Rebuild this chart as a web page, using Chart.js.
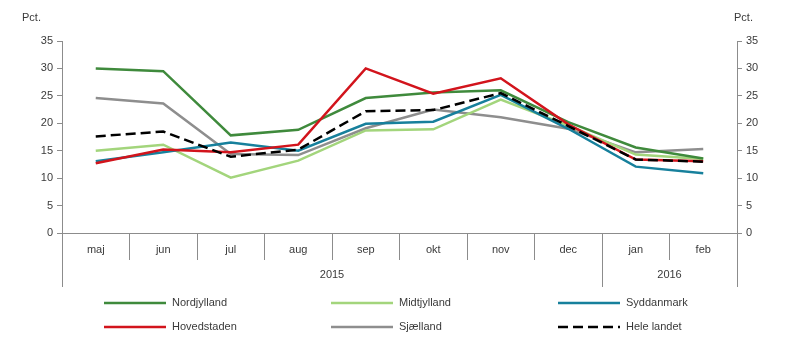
<!DOCTYPE html>
<html>
<head>
<meta charset="utf-8">
<script src="https://cdn.jsdelivr.net/npm/chart.js@4/dist/chart.umd.min.js"></script>
<style>
    html, body { margin: 0; padding: 0; background: #fff; }
</style>
</head>
<body>
<canvas id="chart" width="799" height="345"></canvas>
<script>
const MONTHS = ['maj', 'jun', 'jul', 'aug', 'sep', 'okt', 'nov', 'dec', 'jan', 'feb'];
const YEARS = ['2015', '2016'];
const YEAR_SPANS = [[0, 7], [8, 9]];
const Y_TICKS = [0, 5, 10, 15, 20, 25, 30, 35];

const NORDJYLLAND = [30.0, 29.5, 17.8, 18.8, 24.6, 25.6, 26.0, 20.2, 15.6, 13.6];
const MIDTJYLLAND = [15.0, 16.1, 10.1, 13.2, 18.7, 18.9, 24.3, 19.6, 14.3, 13.5];
const SYDDANMARK = [13.1, 14.7, 16.5, 15.0, 19.9, 20.3, 25.2, 19.0, 12.1, 10.9];
const HOVEDSTADEN = [12.7, 15.2, 14.7, 16.1, 30.0, 25.4, 28.2, 19.8, 13.4, 13.1];
const SJAELLAND = [24.6, 23.6, 14.4, 14.2, 19.1, 22.5, 21.1, 19.0, 14.7, 15.3];
const HELE_LANDET = [17.6, 18.5, 13.9, 15.2, 22.2, 22.4, 25.5, 19.5, 13.4, 13.0];

const FONT = 'Liberation Sans, Arial, sans-serif';
const TEXT = '#3a3a3a';
const AXIS = '#8c8c8c';

const line = (label, data, color, order, dash) => ({
    label,
    data,
    borderColor: color,
    backgroundColor: color,
    borderWidth: 2.5,
    borderDash: dash || [],
    pointRadius: 0,
    tension: 0,
    order
});

const datasets = [
    line('Nordjylland', NORDJYLLAND, '#3f8a3c', 2),
    line('Midtjylland', MIDTJYLLAND, '#a3d57c', 4),
    line('Syddanmark', SYDDANMARK, '#17809c', 3),
    line('Hovedstaden', HOVEDSTADEN, '#d2141c', 1),
    line('Sjælland', SJAELLAND, '#8e8e8e', 5),
    line('Hele landet', HELE_LANDET, '#000000', 0, [10, 5])
];

// year row, "Pct." labels and legend
const extras = {
    id: 'extras',
    afterDraw(chart) {
        const { ctx, chartArea, scales } = chart;
        const x = scales.x;
        const half = (x.getPixelForValue(1) - x.getPixelForValue(0)) / 2;
        ctx.save();
        ctx.strokeStyle = AXIS;
        ctx.lineWidth = 1;
        ctx.fillStyle = TEXT;
        ctx.font = '11px ' + FONT;
        ctx.textAlign = 'center';
        ctx.textBaseline = 'middle';

        const bounds = new Set();
        YEARS.forEach((year, i) => {
            const [a, b] = YEAR_SPANS[i];
            const left = x.getPixelForValue(a) - half;
            const right = x.getPixelForValue(b) + half;
            bounds.add(Math.round(left));
            bounds.add(Math.round(right));
            ctx.fillText(year, (left + right) / 2, chartArea.bottom + 42);
        });
        bounds.forEach(px => {
            ctx.beginPath();
            ctx.moveTo(px + 0.5, chartArea.bottom);
            ctx.lineTo(px + 0.5, chartArea.bottom + 54);
            ctx.stroke();
        });

        ctx.textAlign = 'left';
        ctx.fillText('Pct.', 22, 18);
        ctx.fillText('Pct.', 734, 18);

        // legend, three columns
        const cols = [104, 331, 558];
        const rows = [303, 327];
        chart.data.datasets.forEach((ds, i) => {
            const lx = cols[i % 3];
            const ly = rows[Math.floor(i / 3)];
            ctx.beginPath();
            ctx.strokeStyle = ds.borderColor;
            ctx.lineWidth = 2.5;
            ctx.setLineDash(ds.borderDash);
            ctx.moveTo(lx, ly);
            ctx.lineTo(lx + 62, ly);
            ctx.stroke();
            ctx.setLineDash([]);
            ctx.fillText(ds.label, lx + 68, ly);
        });
        ctx.restore();
    }
};

const yAxis = (position) => ({
    position,
    min: 0,
    max: 35,
    afterBuildTicks: axis => { axis.ticks = Y_TICKS.map(v => ({ value: v })); },
    afterFit: axis => { axis.width = 62; },
    grid: { drawOnChartArea: false, tickLength: 5, color: AXIS },
    border: { color: AXIS },
    ticks: { color: TEXT, font: { family: FONT, size: 11 }, padding: 4 }
});

new Chart(document.getElementById('chart').getContext('2d'), {
    type: 'line',
    data: { labels: MONTHS, datasets },
    options: {
        responsive: false,
        animation: false,
        layout: { padding: { top: 41, left: 0, right: 0, bottom: 0 } },
        plugins: {
            legend: { display: false },
            tooltip: { enabled: false }
        },
        scales: {
            x: {
                offset: true,
                afterFit: axis => { axis.height = 112; },
                grid: { offset: true, drawOnChartArea: false, tickLength: 27, color: AXIS },
                border: { color: AXIS },
                ticks: { color: TEXT, font: { family: FONT, size: 11 }, padding: -17, maxRotation: 0 }
            },
            y: yAxis('left'),
            y2: yAxis('right')
        }
    },
    plugins: [extras]
});
</script>
</body>
</html>
